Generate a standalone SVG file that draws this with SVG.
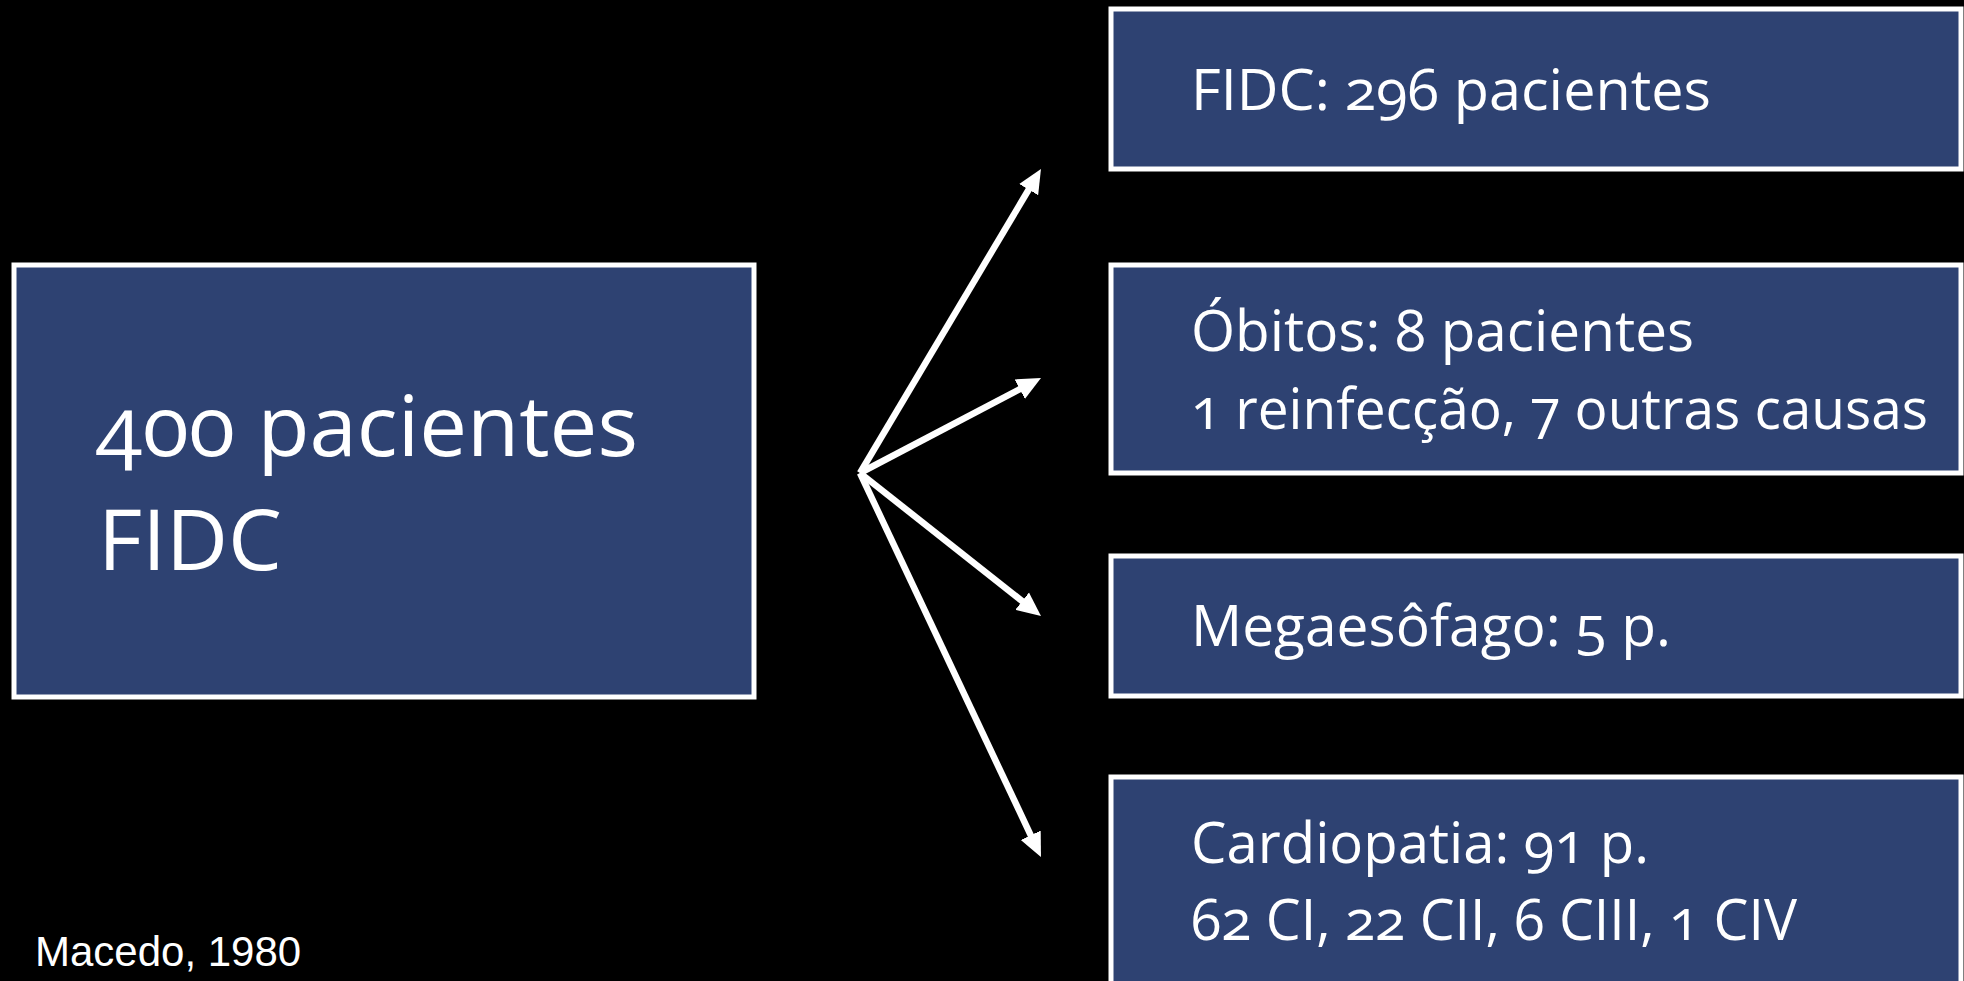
<svg xmlns="http://www.w3.org/2000/svg" width="1964" height="981" viewBox="0 0 1964 981">
  <style>
    .box { fill: #2E4272; stroke: #FFFFFF; stroke-width: 5; }
    .lbl { fill: #FFFFFF; font-family: "Open Sans", "Noto Sans", "DejaVu Sans", sans-serif; font-variant-numeric: oldstyle-nums; font-feature-settings: "onum" 1; }
    .big { font-size: 84px; }
    .mid { font-size: 57px; }
    .link { stroke: #FFFFFF; stroke-width: 6.5; fill: none; marker-end: url(#head); }
    .cite { fill: #FFFFFF; font-family: "Liberation Sans", Arial, sans-serif; font-size: 42px; }
  </style>
  <defs>
    <marker id="head" markerUnits="userSpaceOnUse" markerWidth="34" markerHeight="28" viewBox="0 -14 34 28" refX="10" refY="0" orient="auto">
      <path d="M0,-11 L24,0 L0,11 Z" fill="#FFFFFF"/>
    </marker>
  </defs>

  <rect x="0" y="0" width="1964" height="981" fill="#000000"/>

  <g id="source">
    <rect class="box" x="14" y="265" width="740" height="432"/>
    <text class="lbl big" x="96" y="456" textLength="542" lengthAdjust="spacingAndGlyphs">400 pacientes</text>
    <text class="lbl big" x="98" y="570" textLength="184" lengthAdjust="spacingAndGlyphs">FIDC</text>
  </g>

  <g id="fidc">
    <rect class="box" x="1111" y="9" width="850" height="160"/>
    <text class="lbl mid" x="1191" y="110" textLength="520" lengthAdjust="spacingAndGlyphs">FIDC: 296 pacientes</text>
  </g>

  <g id="obitos">
    <rect class="box" x="1111" y="265" width="850" height="208"/>
    <text class="lbl mid" x="1191" y="351" textLength="503" lengthAdjust="spacingAndGlyphs">Óbitos: 8 pacientes</text>
    <text class="lbl mid" x="1191" y="429" textLength="737" lengthAdjust="spacingAndGlyphs">1 reinfecção, 7 outras causas</text>
  </g>

  <g id="megaesofago">
    <rect class="box" x="1111" y="556" width="850" height="140"/>
    <text class="lbl mid" x="1191" y="646" textLength="480" lengthAdjust="spacingAndGlyphs">Megaesôfago: 5 p.</text>
  </g>

  <g id="cardiopatia">
    <rect class="box" x="1111" y="777" width="850" height="220"/>
    <text class="lbl mid" x="1191" y="863" textLength="458" lengthAdjust="spacingAndGlyphs">Cardiopatia: 91 p.</text>
    <text class="lbl mid" x="1191" y="940" textLength="606" lengthAdjust="spacingAndGlyphs">62 CI, 22 CII, 6 CIII, 1 CIV</text>
  </g>

  <g id="connectors">
    <line class="link" x1="860" y1="473" x2="1033.8" y2="181.0"/>
    <line class="link" x1="860" y1="473" x2="1028.6" y2="384.5"/>
    <line class="link" x1="860" y1="473" x2="1030.0" y2="607.3"/>
    <line class="link" x1="860" y1="473" x2="1035.0" y2="844.3"/>
  </g>

  <text class="cite" x="35" y="966">Macedo, 1980</text>
</svg>
